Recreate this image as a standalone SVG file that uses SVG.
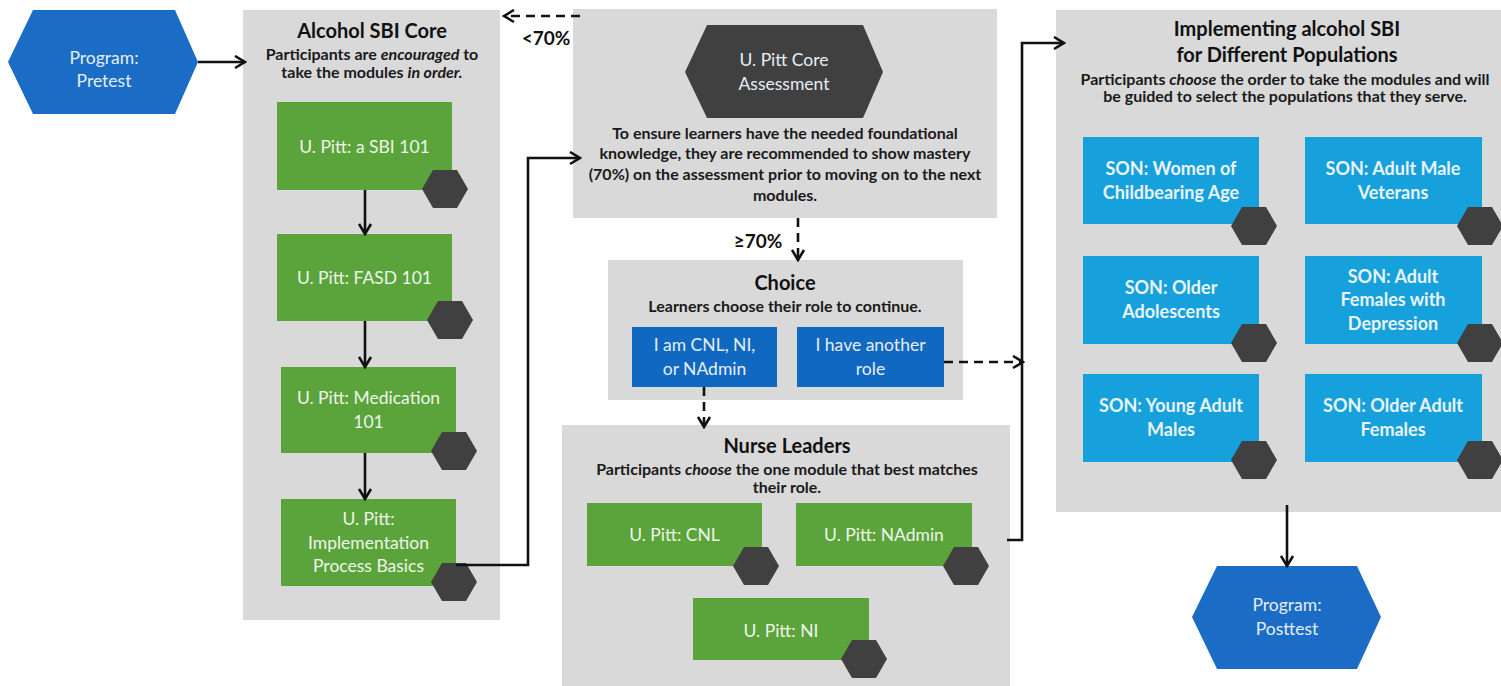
<svg xmlns="http://www.w3.org/2000/svg" width="1501" height="686" viewBox="0 0 1501 686">
<style>
text{font-family:Lato,"Liberation Sans",sans-serif;text-anchor:middle}
.panel{fill:#d9d9d9}
.green{fill:#5ba33b}
.navy{fill:#1a6cc4}
.btn{fill:#1068c0}
.son{fill:#16a0dc}
.badge{fill:#404040}
.ttl{font-size:20px;font-weight:bold;fill:#111}
.sub{font-size:16px;font-weight:bold;fill:#1a1a1a}
.gt{font-size:17.5px;fill:#eef5ea}
.wt{font-size:17.5px;fill:#e6eef8}
.st{font-size:18px;font-weight:bold;fill:#eaf4fb}
.lbl{font-size:19px;font-weight:bold;fill:#111}
.ln{fill:none;stroke:#111;stroke-width:2.6}
.dash{stroke-dasharray:9 6}
</style>
<defs>
<marker id="ah" markerUnits="userSpaceOnUse" markerWidth="15" markerHeight="15" viewBox="0 0 15 15" refX="13" refY="7.5" orient="auto">
<path d="M3,1.5 L13,7.5 L3,13.5" fill="none" stroke="#111" stroke-width="2.6"/>
</marker>
<polygon id="hx" points="-23,0 -12,-19 12,-19 23,0 12,19 -12,19"/>
</defs>

<g id="pretest">
<polygon class="navy" points="8,62 33,10 175,10 198,62 175,114 33,114"/>
<text class="wt" x="104" y="64">Program:</text>
<text class="wt" x="104" y="87">Pretest</text>
</g>

<g id="core">
<rect class="panel" x="243" y="10" width="257" height="610"/>
<text class="ttl" x="372" y="38">Alcohol SBI Core</text>
<text class="sub" x="372" y="60">Participants are <tspan font-style="italic">encouraged</tspan> to</text>
<text class="sub" x="372" y="78">take the modules <tspan font-style="italic">in order.</tspan></text>
</g>

<g id="sbi101">
<rect class="green" x="277" y="102" width="175" height="88"/>
<text class="gt" x="364.5" y="153">U. Pitt: a SBI 101</text>
<use href="#hx" class="badge" x="445" y="189"/>
</g>

<g id="fasd101">
<rect class="green" x="277" y="234" width="175" height="87"/>
<text class="gt" x="364.5" y="284">U. Pitt: FASD 101</text>
<use href="#hx" class="badge" x="450" y="320"/>
</g>

<g id="med101">
<rect class="green" x="281" y="367" width="175" height="86"/>
<text class="gt" x="368.5" y="404">U. Pitt: Medication</text>
<text class="gt" x="368.5" y="428">101</text>
<use href="#hx" class="badge" x="454" y="451"/>
</g>

<g id="impl">
<rect class="green" x="281" y="499" width="175" height="87"/>
<text class="gt" x="368.5" y="525">U. Pitt:</text>
<text class="gt" x="368.5" y="549">Implementation</text>
<text class="gt" x="368.5" y="572">Process Basics</text>
<use href="#hx" class="badge" x="454" y="582"/>
</g>

<g id="assessment">
<rect class="panel" x="573" y="9" width="424" height="209"/>
<polygon class="badge" points="685,72 707,25 863,25 883,72 863,118 707,118"/>
<text class="wt" x="784" y="66" fill="#eee">U. Pitt Core</text>
<text class="wt" x="784" y="90" fill="#eee">Assessment</text>
<text class="sub" x="785" y="139">To ensure learners have the needed foundational</text>
<text class="sub" x="785" y="159">knowledge, they are recommended to show mastery</text>
<text class="sub" x="785" y="180">(70%) on the assessment prior to moving on to the next</text>
<text class="sub" x="785" y="201">modules.</text>
</g>

<g id="choice">
<rect class="panel" x="608" y="260" width="355" height="140"/>
<text class="ttl" x="785" y="290" font-size="19">Choice</text>
<text class="sub" x="785" y="312">Learners choose their role to continue.</text>
</g>

<g id="role-nl">
<rect class="btn" x="632" y="327" width="145" height="60"/>
<text class="wt" x="704.5" y="351">I am CNL, NI,</text>
<text class="wt" x="704.5" y="375">or NAdmin</text>
</g>

<g id="role-other">
<rect class="btn" x="797" y="327" width="147" height="60"/>
<text class="wt" x="870.5" y="351">I have another</text>
<text class="wt" x="870.5" y="375">role</text>
</g>

<g id="nurse-leaders">
<rect class="panel" x="562" y="425" width="448" height="261"/>
<text class="ttl" x="787" y="453" font-size="19">Nurse Leaders</text>
<text class="sub" x="787" y="475">Participants <tspan font-style="italic">choose</tspan> the one module that best matches</text>
<text class="sub" x="787" y="493">their role.</text>
</g>

<g id="cnl">
<rect class="green" x="587" y="503" width="175" height="63"/>
<text class="gt" x="674.5" y="541">U. Pitt: CNL</text>
<use href="#hx" class="badge" x="756" y="566"/>
</g>

<g id="nadmin">
<rect class="green" x="796" y="503" width="176" height="63"/>
<text class="gt" x="884" y="541">U. Pitt: NAdmin</text>
<use href="#hx" class="badge" x="966" y="566"/>
</g>

<g id="ni">
<rect class="green" x="693" y="598" width="176" height="62"/>
<text class="gt" x="781" y="637">U. Pitt: NI</text>
<use href="#hx" class="badge" x="864" y="659"/>
</g>

<g id="populations">
<rect class="panel" x="1056" y="10" width="445" height="502"/>
<text class="ttl" x="1287" y="36" font-weight="normal">Implementing <tspan font-weight="bold">alcohol SBI</tspan></text>
<text class="ttl" x="1287" y="62" font-weight="normal">for <tspan font-weight="bold">Different Populations</tspan></text>
<text class="sub" x="1285" y="85">Participants <tspan font-style="italic">choose</tspan> the order to take the modules and will</text>
<text class="sub" x="1285" y="102">be guided to select the populations that they serve.</text>
</g>

<g id="son-women">
<rect class="son" x="1083" y="137" width="176" height="87"/>
<text class="st" x="1171" y="175">SON: Women of</text>
<text class="st" x="1171" y="199">Childbearing Age</text>
<use href="#hx" class="badge" x="1254" y="226"/>
</g>

<g id="son-veterans">
<rect class="son" x="1305" y="137" width="177" height="87"/>
<text class="st" x="1393" y="175">SON: Adult Male</text>
<text class="st" x="1393" y="199">Veterans</text>
<use href="#hx" class="badge" x="1480" y="226"/>
</g>

<g id="son-adolescents">
<rect class="son" x="1083" y="256" width="176" height="88"/>
<text class="st" x="1171" y="294">SON: Older</text>
<text class="st" x="1171" y="318">Adolescents</text>
<use href="#hx" class="badge" x="1254" y="343"/>
</g>

<g id="son-depression">
<rect class="son" x="1305" y="256" width="177" height="88"/>
<text class="st" x="1393" y="283">SON: Adult</text>
<text class="st" x="1393" y="306">Females with</text>
<text class="st" x="1393" y="330">Depression</text>
<use href="#hx" class="badge" x="1480" y="343"/>
</g>

<g id="son-young-males">
<rect class="son" x="1083" y="374" width="176" height="88"/>
<text class="st" x="1171" y="412">SON: Young Adult</text>
<text class="st" x="1171" y="436">Males</text>
<use href="#hx" class="badge" x="1254" y="460"/>
</g>

<g id="son-older-females">
<rect class="son" x="1305" y="374" width="177" height="88"/>
<text class="st" x="1393" y="412">SON: Older Adult</text>
<text class="st" x="1393" y="436">Females</text>
<use href="#hx" class="badge" x="1480" y="460"/>
</g>

<g id="posttest">
<polygon class="navy" points="1192,617 1217,566 1357,566 1381,617 1357,669 1217,669"/>
<text class="wt" x="1287" y="611">Program:</text>
<text class="wt" x="1287" y="635">Posttest</text>
</g>

<g id="connectors">
<path class="ln" d="M198,62 H245" marker-end="url(#ah)"/>
<path class="ln" d="M365,190 V234" marker-end="url(#ah)"/>
<path class="ln" d="M365,321 V367" marker-end="url(#ah)"/>
<path class="ln" d="M365,453 V499" marker-end="url(#ah)"/>
<path class="ln" d="M456,565 H528 V158 H580" marker-end="url(#ah)"/>
<path class="ln dash" d="M580,16 H504" marker-end="url(#ah)"/>
<text class="lbl" x="546" y="45">&lt;70%</text>
<path class="ln dash" d="M798,218 V260" marker-end="url(#ah)"/>
<text class="lbl" x="758" y="248">≥70%</text>
<path class="ln dash" d="M944,362 H1023" marker-end="url(#ah)"/>
<path class="ln dash" d="M704,387 V427" marker-end="url(#ah)"/>
<path class="ln" d="M1007,540 H1022 V43 H1064" marker-end="url(#ah)"/>
<path class="ln" d="M1287,505 V566" marker-end="url(#ah)"/>
</g>
</svg>
